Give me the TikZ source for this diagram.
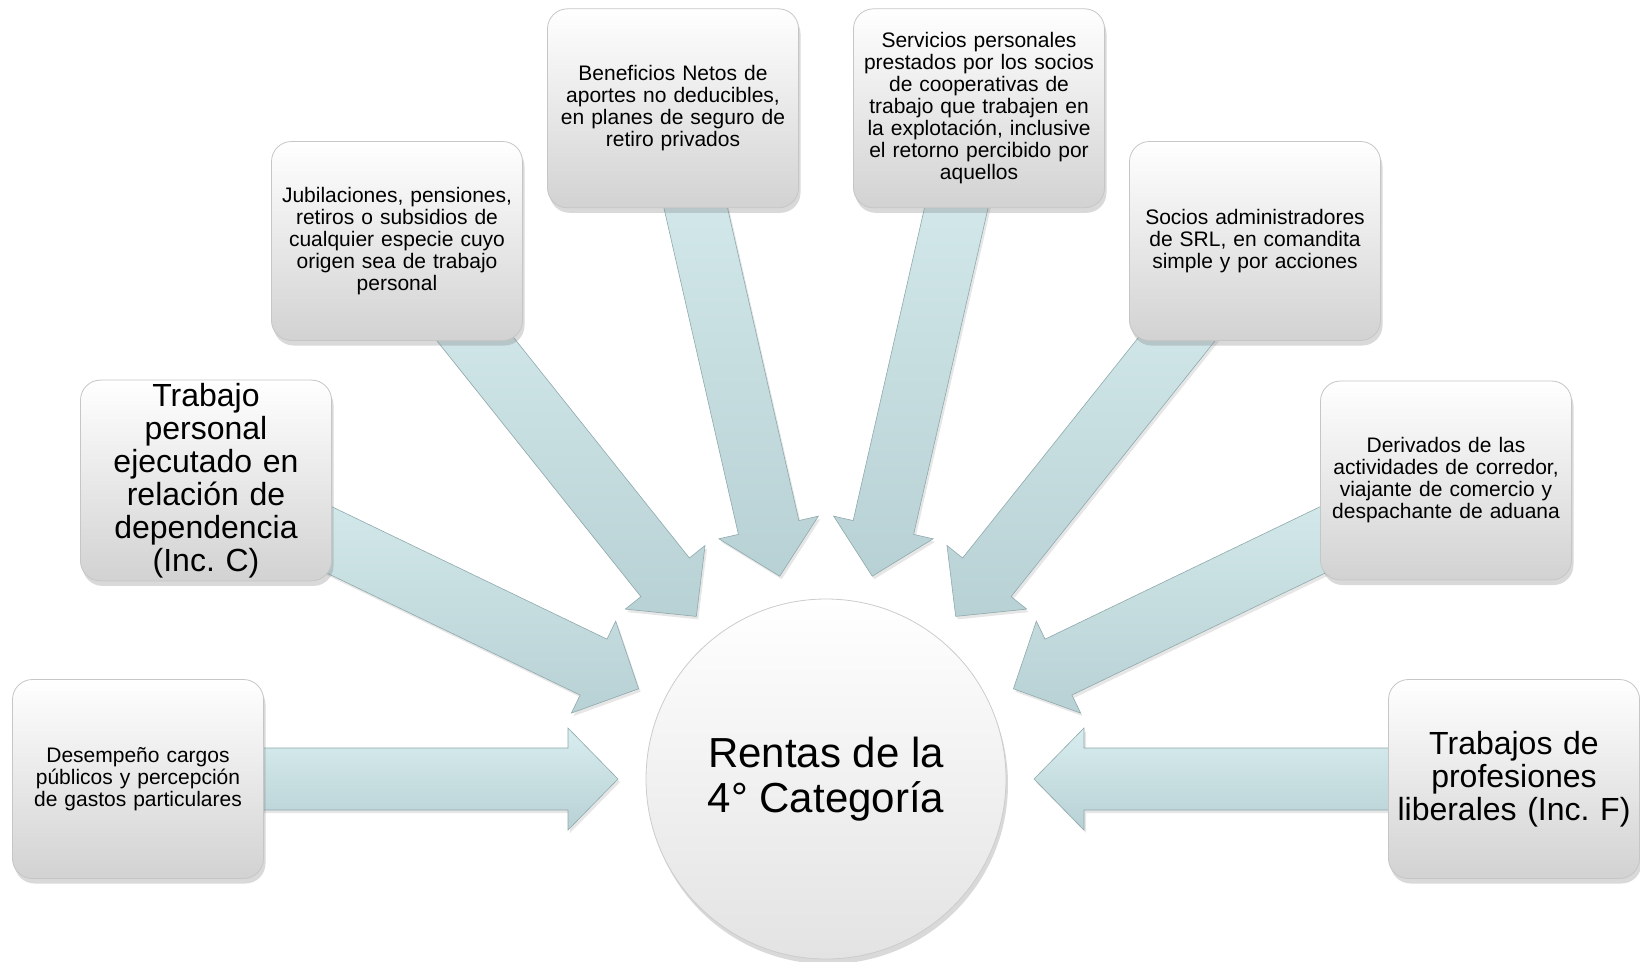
\documentclass[tikz,border=0pt]{standalone}
\usepackage{fontspec}
\setmainfont{Liberation Sans}
\usetikzlibrary{calc,shadows,backgrounds}
\frenchspacing

\definecolor{flechaclara}{HTML}{D8EDEF}
\definecolor{flechaoscura}{HTML}{B8D1D4}
\definecolor{flechaborde}{HTML}{8FA9AC}
\definecolor{cajagris}{HTML}{D2D2D2}

% block arrow from a box to the circle
\newcommand\flecha[1]{%
  \coordinate (punta) at ($(rentas.center)!208pt!(#1.center)$);
  \coordinate (base) at ($(rentas.center)!258pt!(#1.center)$);
  \draw[blockarrow] ($(#1.center)!31pt!-90:(rentas.center)$) -- ($(base)!31pt!90:(#1.center)$)
    -- ($(base)!51pt!90:(#1.center)$) -- (punta) -- ($(base)!51pt!-90:(#1.center)$)
    -- ($(base)!31pt!-90:(#1.center)$) -- ($(#1.center)!31pt!90:(rentas.center)$) -- cycle;}

\begin{document}
\begin{tikzpicture}[x=1pt, y=-1pt,
    caja/.style = {draw=gray!45, line width=0.8pt, rounded corners=20pt, inner sep=3pt, minimum width=251pt, minimum height=199pt, text width=245pt, align=center, top color=white, bottom color=cajagris, drop shadow={opacity=0.3, shadow xshift=2pt, shadow yshift=-5pt}, font=\fontsize{21}{22}\selectfont},
    cajagrande/.style = {caja, font=\fontsize{32}{33}\selectfont},
    blockarrow/.style = {draw=flechaborde, line width=0.6pt, top color=flechaclara, bottom color=flechaoscura, drop shadow={opacity=0.2, shadow xshift=2pt, shadow yshift=-3pt}}]

    \useasboundingbox (0,0) rectangle (1640,961);

    % centre
    \node[circle, minimum size=360pt, inner sep=0pt, draw=gray!40, line width=0.8pt, top color=white, bottom color=gray!22, drop shadow={opacity=0.3, shadow xshift=2pt, shadow yshift=-5pt}, align=center, font=\fontsize{42}{45}\selectfont] (rentas) at (826,779) {Rentas de la\\4° Categoría};

    % boxes
    \node[caja] (desempeno) at (138,779) {Desempeño cargos\\públicos y percepción\\de gastos particulares};
    \node[cajagrande] (trabajo) at (206,480.5) {Trabajo\\personal\\ejecutado en\\relación de\\dependencia\\(Inc. C)};
    \node[caja] (jubilaciones) at (397,241) {Jubilaciones, pensiones,\\retiros o subsidios de\\cualquier especie cuyo\\origen sea de trabajo\\personal};
    \node[caja] (beneficios) at (673,108.3) {Beneficios Netos de\\aportes no deducibles,\\en planes de seguro de\\retiro privados};
    \node[caja] (servicios) at (979,108.3) {Servicios personales\\prestados por los socios\\de cooperativas de\\trabajo que trabajen en\\la explotación, inclusive\\el retorno percibido por\\aquellos};
    \node[caja] (socios) at (1255,241) {Socios administradores\\de SRL, en comandita\\simple y por acciones};
    \node[caja] (derivados) at (1446,480.5) {Derivados de las\\actividades de corredor,\\viajante de comercio y\\despachante de aduana};
    \node[cajagrande] (liberales) at (1514,779) {Trabajos de\\profesiones\\liberales (Inc. F)};

    % arrows
    \begin{pgfonlayer}{background}
    \flecha{desempeno}
    \flecha{trabajo}
    \flecha{jubilaciones}
    \flecha{beneficios}
    \flecha{servicios}
    \flecha{socios}
    \flecha{derivados}
    \flecha{liberales}
    \end{pgfonlayer}

\end{tikzpicture}
\end{document}
